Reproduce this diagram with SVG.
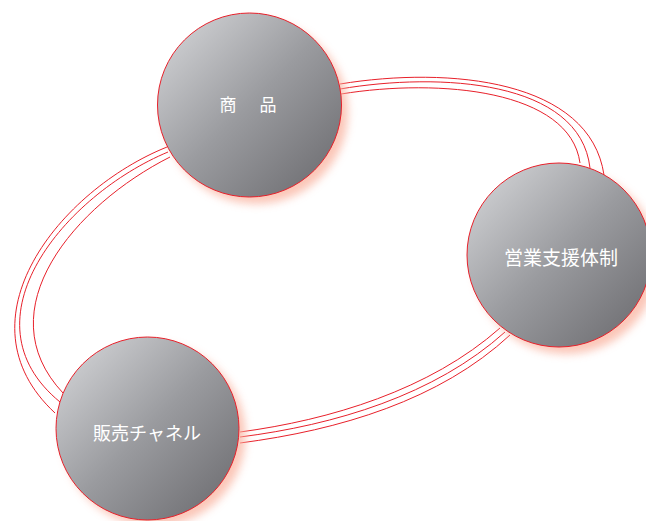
<svg xmlns="http://www.w3.org/2000/svg" width="646" height="521" viewBox="0 0 646 521">
<defs>
<linearGradient id="g" x1="0.15" y1="0.15" x2="0.85" y2="0.85">
<stop offset="0" stop-color="#c6c7ca"/>
<stop offset="0.5" stop-color="#9a9b9f"/>
<stop offset="1" stop-color="#77777b"/>
</linearGradient>
<filter id="sh" x="-30%" y="-30%" width="160%" height="160%">
<feGaussianBlur stdDeviation="4"/>
</filter>
</defs>
<style>
.conn path{fill:none;stroke:#e8202a;stroke-width:1}
.shadow{fill:#f9b4a0;opacity:0.75;filter:url(#sh)}
.disc{fill:url(#g);stroke:#e8202a;stroke-width:1}
.lbl{fill:#ffffff;font-family:"Noto Sans CJK JP","Noto Sans CJK SC",sans-serif;text-anchor:middle}
</style>
<rect width="646" height="521" fill="#ffffff"/>
<g id="connectors" class="conn">
<path d="M340,84 C450,66 590,80 604,175"/>
<path d="M340,89 C440,72 580,80 590,168"/>
<path d="M341,94 C440,78 570,90 580,163"/>
<path d="M167,147 C60,190 -45,320 55,413"/>
<path d="M168,152 C65,195 -40,320 60,402"/>
<path d="M170,157 C75,205 -15,310 63,393"/>
<path d="M240,432 C330,420 430,390 500,328"/>
<path d="M240,437 C335,425 435,395 505,332"/>
<path d="M240,443 C340,430 440,400 510,335"/>
</g>
<g id="node-shohin">
<circle class="shadow" cx="256" cy="112" r="92"/>
<circle class="disc" cx="249.5" cy="105" r="92"/>
<text class="lbl" x="228" y="111" font-size="17">商</text>
<text class="lbl" x="268" y="111" font-size="17">品</text>
</g>
<g id="node-eigyo">
<circle class="shadow" cx="566" cy="262" r="92"/>
<circle class="disc" cx="559" cy="255" r="92"/>
<text class="lbl" x="561" y="265" font-size="19">営業支援体制</text>
</g>
<g id="node-hanbai">
<circle class="shadow" cx="154" cy="435" r="91.5"/>
<circle class="disc" cx="147.5" cy="428.5" r="91.5"/>
<text class="lbl" x="147" y="440" font-size="18">販売チャネル</text>
</g>
</svg>
